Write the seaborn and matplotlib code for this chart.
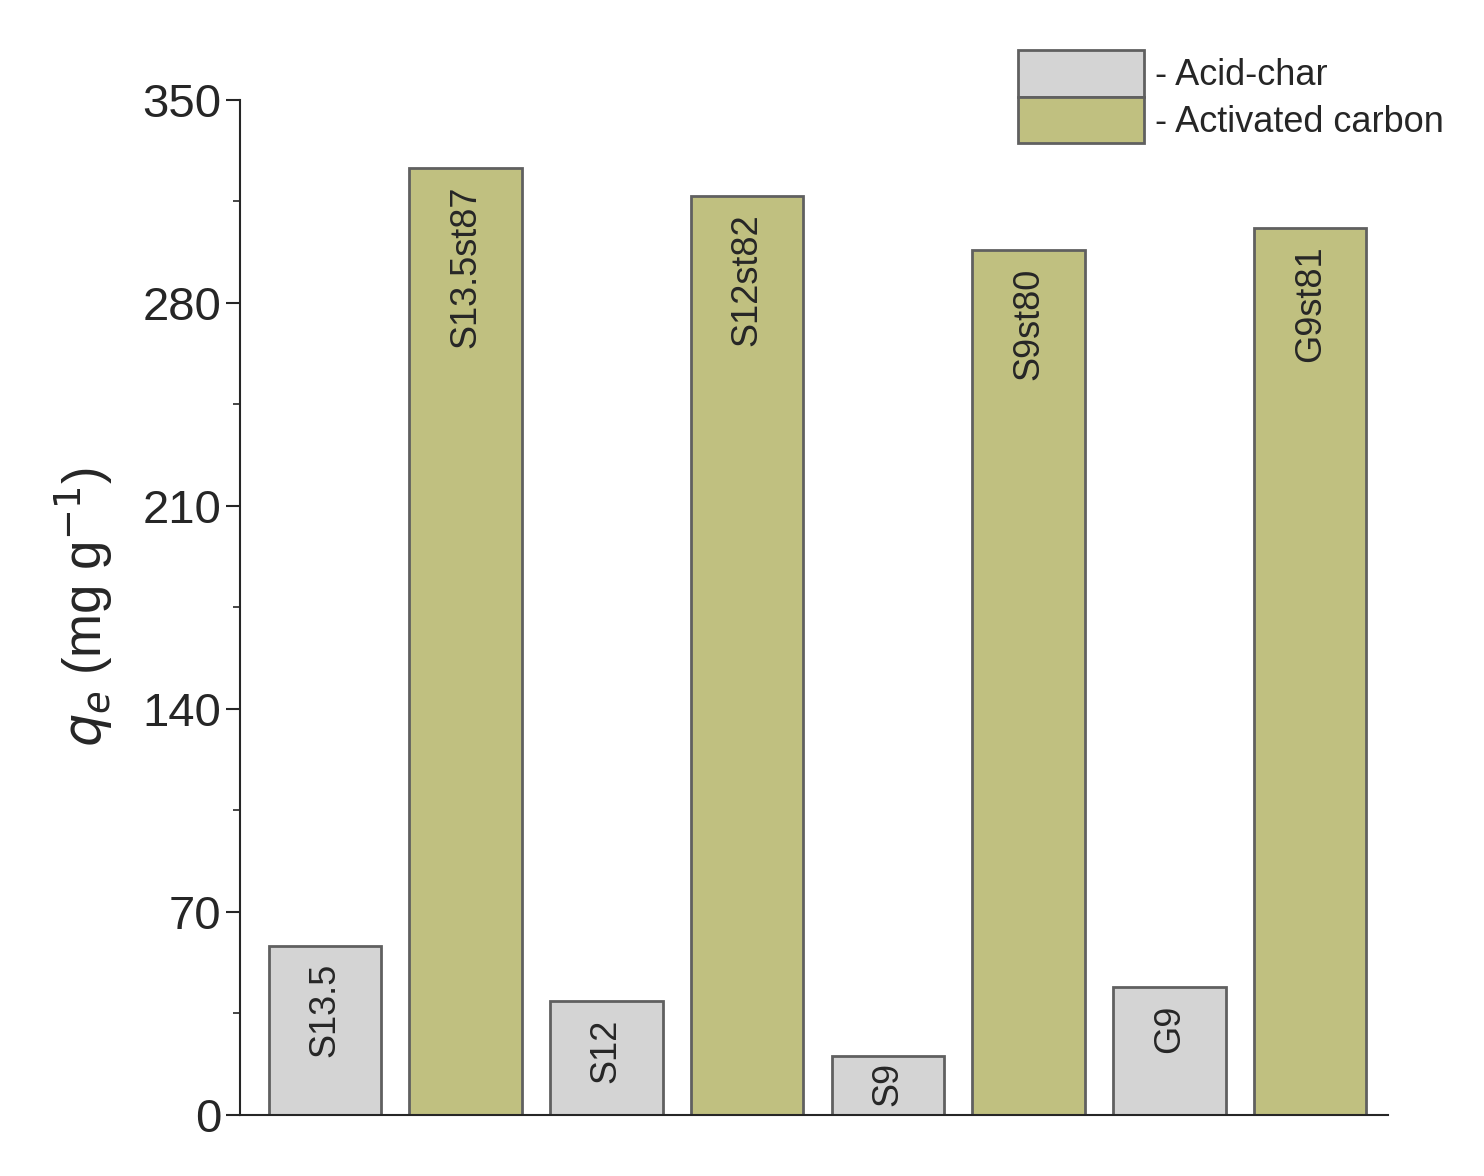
import matplotlib
matplotlib.use("Agg")
import matplotlib.pyplot as plt
import seaborn as sns
import pandas as pd
from matplotlib.ticker import MultipleLocator
from matplotlib.patches import Patch

labels = ["S13.5", "S13.5st87", "S12", "S12st82", "S9", "S9st80", "G9", "G9st81"]
values = [58.3, 326.5, 39.3, 317.0, 20.3, 298.3, 44.1, 306.0]
types = ["Acid-char", "Activated carbon"] * 4
colors = {"Acid-char": "#d4d4d4", "Activated carbon": "#c0c080"}

df = pd.DataFrame({"label": labels, "value": values, "type": types})
sns.set_style("ticks")
plt.rcParams['font.family'] = ['Liberation Sans', 'DejaVu Sans']

fig = plt.figure(figsize=(14.84, 11.76), dpi=100)
ax = fig.add_axes([0.162, 0.052, 0.773, 0.863])
sns.barplot(data=df, x="label", y="value", hue="type", palette=colors, dodge=False,
            saturation=1, width=0.8, edgecolor="#606060", linewidth=2, legend=False, ax=ax)
ax.set_ylim(0, 350)
ax.set_xlim(-0.6, 7.55)
ax.yaxis.set_major_locator(MultipleLocator(70))
ax.yaxis.set_minor_locator(MultipleLocator(35))
ax.tick_params(axis='y', which='major', labelsize=34, length=10, width=1.5, direction='out')
ax.tick_params(axis='y', which='minor', length=5, width=1.2)
ax.set_xticks([])
ax.set_xlabel("")
ax.set_ylabel(r"$q_e$ (mg g$^{-1}$)", fontsize=38, labelpad=20)
sns.despine(ax=ax)
for s in ["left", "bottom"]:
    ax.spines[s].set_linewidth(1.5)

for i, (lab, v) in enumerate(zip(labels, values)):
    off = 2 if v < 30 else 6
    ax.text(i, v - off, lab, rotation=90, ha="center", va="top", fontsize=26)

handles = [Patch(facecolor=colors[t], edgecolor="#606060", linewidth=2) for t in ["Acid-char", "Activated carbon"]]
fig.legend(handles, ["- Acid-char", "- Activated carbon"], loc="upper right",
           bbox_to_anchor=(0.995, 0.985), frameon=False, fontsize=26,
           handlelength=3.5, handleheight=1.6, handletextpad=0.3, labelspacing=0.0)
fig.savefig("out.png", dpi=100)
